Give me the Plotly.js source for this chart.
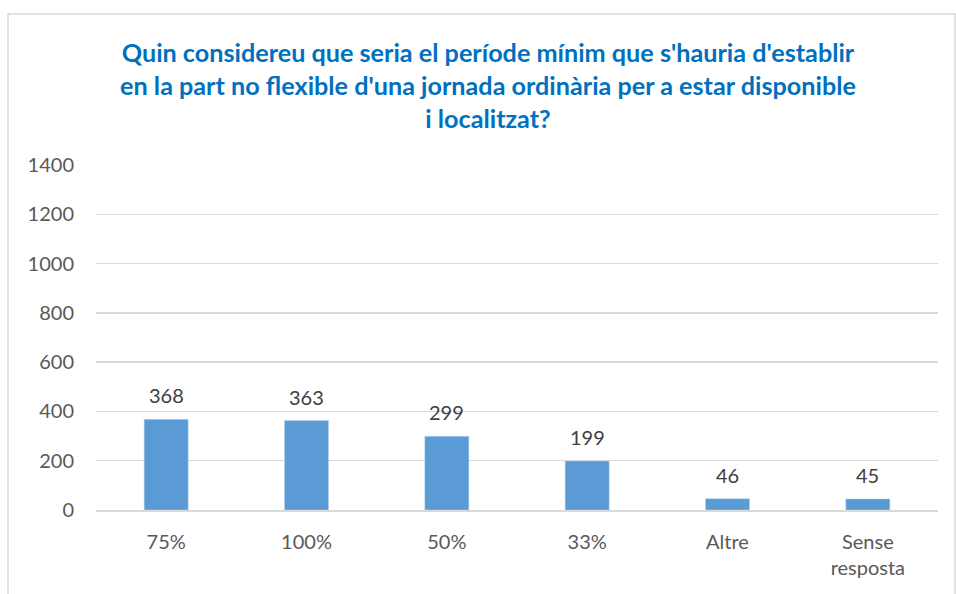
<!DOCTYPE html>
<html>
<head>
<meta charset="utf-8">
<script src="https://cdn.plot.ly/plotly-3.0.1.min.js"></script>
<style>html,body{margin:0;padding:0;background:#fff;}#chart{width:956px;height:594px;}</style>
</head>
<body>
<div id="chart"></div>
<script>
const categories = ["75%", "100%", "50%", "33%", "Altre", "Sense<br>resposta"];
const values = [368, 363, 299, 199, 46, 45];
const yTicks = [0, 200, 400, 600, 800, 1000, 1200, 1400];
const titleText = "Quin considereu que seria el període mínim que s'hauria d'establir<br>en la part no flexible d'una jornada ordinària per a estar disponible<br>i localitzat?";

const FONT = "Lato, 'Open Sans', sans-serif";

const trace = {
  type: "bar",
  x: categories,
  y: values,
  marker: {color: "#5B9BD5", line: {color: "#BDD7EE", width: 0.5}},
  hoverinfo: "x+y"
};

const annotations = values.map((v, i) => ({
  x: categories[i], y: v, xref: "x", yref: "y",
  text: String(v), showarrow: false, yanchor: "bottom", yshift: 10,
  font: {family: FONT, size: 20, color: "#404040"}
}));

const layout = {
  width: 956, height: 594,
  margin: {l: 96, r: 18, t: 165, b: 84},
  paper_bgcolor: "#ffffff", plot_bgcolor: "#ffffff",
  showlegend: false,
  bargap: 0.686,
  title: {
    text: titleText,
    x: 488 / 956, xref: "container", xanchor: "center",
    y: 1 - 62 / 594, yref: "container", yanchor: "top",
    font: {family: FONT, size: 25.2, color: "#0070C0", weight: "bold"}
  },
  xaxis: {
    type: "category",
    showgrid: false,
    showline: true, linecolor: "#D9D9D9", linewidth: 2,
    ticks: "", ticklabelstandoff: 13,
    tickfont: {family: FONT, size: 20, color: "#595959"},
    fixedrange: true
  },
  yaxis: {
    range: [0, 1400],
    tickvals: yTicks,
    ticktext: yTicks.map(String),
    showgrid: true, gridcolor: "#D9D9D9", gridwidth: 1.3,
    zeroline: false, showline: false,
    ticks: "", ticklabelstandoff: 21,
    tickfont: {family: FONT, size: 20, color: "#595959"},
    fixedrange: true
  },
  annotations: annotations,
  shapes: [{
    type: "rect", xref: "paper", yref: "paper",
    x0: -88 / 842, x1: 1 + 17 / 842,
    y0: -100 / 345, y1: 1 + 151 / 345,
    line: {color: "#D9D9D9", width: 1.5}, fillcolor: "rgba(0,0,0,0)", layer: "below"
  }]
};

Plotly.newPlot("chart", [trace], layout, {displayModeBar: false, staticPlot: true});
</script>
</body>
</html>
